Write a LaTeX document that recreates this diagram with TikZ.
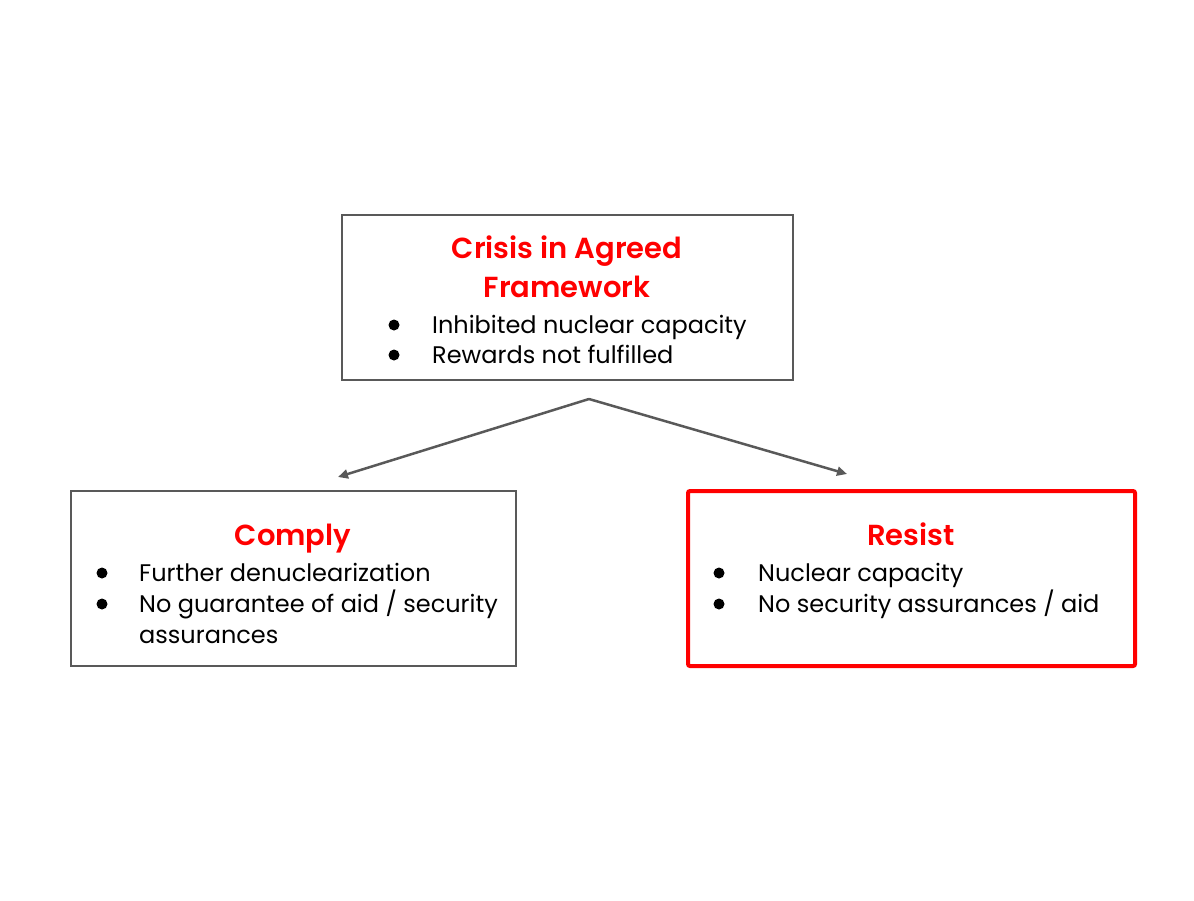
\documentclass[tikz,border=0pt]{standalone}
\usepackage{fontspec}
\setmainfont{Poppins}
\newfontfamily\ttlfont{Poppins}[UprightFont=* SemiBold]
\usetikzlibrary{arrows.meta}
\definecolor{boxgray}{HTML}{595959}
\definecolor{hired}{HTML}{FF0000}
\tikzset{
  graybox/.style={draw=boxgray, line width=2pt},
  redbox/.style={draw=hired, line width=4pt, rounded corners=2pt},
  conn/.style={draw=boxgray, line width=2.5pt, -{Triangle[length=10pt,width=9pt]}},
  ttl/.style={text=hired, font=\fontsize{29}{34}\ttlfont, inner sep=0pt, anchor=base},
  itm/.style={font=\fontsize{24}{28}\selectfont, inner sep=0pt, anchor=base west},
  bul/.style={circle, fill=black, inner sep=0pt, minimum size=11pt},
}
\begin{document}
\begin{tikzpicture}[x=1pt,y=-1pt]
\useasboundingbox (0,0) rectangle (1194,900);
% boxes
\draw[graybox] (342,215) rectangle (793,380);
\draw[graybox] (71,491) rectangle (516,666);
\draw[redbox] (688,491) rectangle (1135,666);
% top box text
\node[ttl] (t1) at (567,258) {Crisis in Agreed};
\node[ttl] (t2) at (567,297) {Framework};
\node[bul] (b1) at (394,325) {};
\node[itm] (i1) at (432,333) {Inhibited nuclear capacity};
\node[bul] (b2) at (394,355) {};
\node[itm] (i2) at (432,363) {Rewards not fulfilled};
% comply
\node[ttl] (c0) at (293,545) {Comply};
\node[bul] (cb1) at (102,573) {};
\node[itm] (c1) at (139,581) {Further denuclearization};
\node[bul] (cb2) at (102,604) {};
\node[itm] (c2) at (139,612) {No guarantee of aid / security};
\node[itm] (c3) at (139,643) {assurances};
% resist
\node[ttl] (r0) at (911,545) {Resist};
\node[bul] (rb1) at (719,573) {};
\node[itm] (r1) at (758,581) {Nuclear capacity};
\node[bul] (rb2) at (719,604) {};
\node[itm] (r2) at (758,612) {No security assurances / aid};
% connectors
\coordinate (apex) at (589,399);
\coordinate (lend) at (338,477);
\coordinate (rend) at (847,474);
\draw[conn] (apex) -- (lend);
\draw[conn] (apex) -- (rend);
\end{tikzpicture}
\end{document}
